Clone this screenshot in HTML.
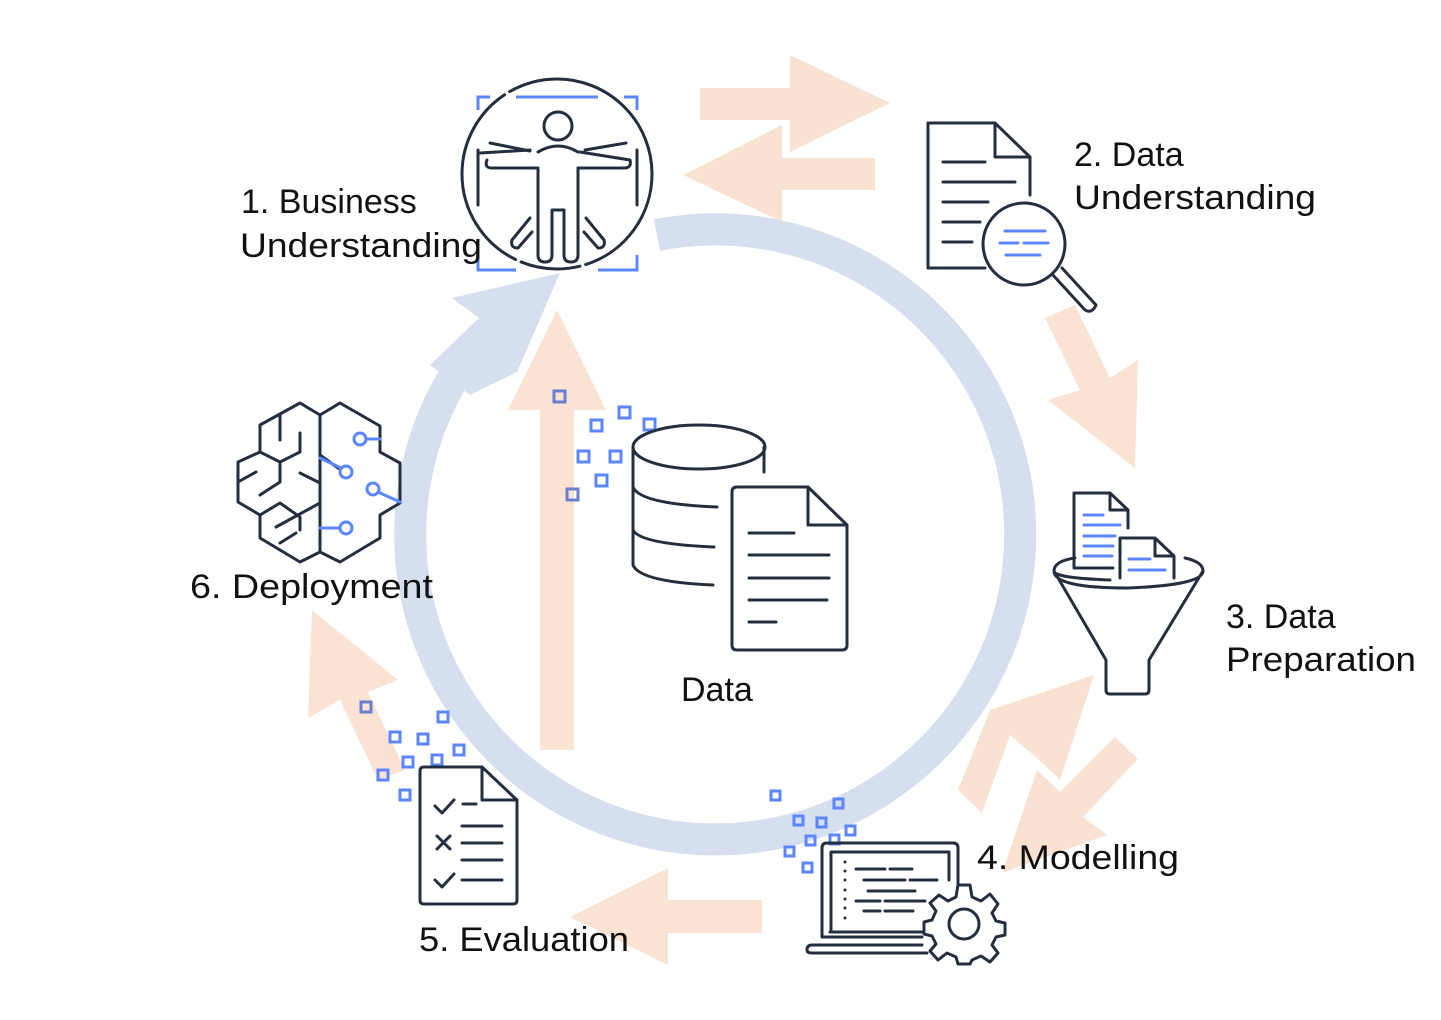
<!DOCTYPE html>
<html><head><meta charset="utf-8"><style>
html,body{margin:0;padding:0;background:#fff;}
svg{display:block;}
text{font-family:"Liberation Sans",sans-serif;font-size:34px;fill:#111;}
</style></head><body>
<svg width="1441" height="1020" viewBox="0 0 1441 1020" xmlns="http://www.w3.org/2000/svg">
<!-- ring -->
<path d="M657 235 A305 305 0 1 1 481 339" fill="none" stroke="#d5dff0" stroke-width="32"/>
<polygon points="560,273 452,298 479,318 430,365 470,395 517,372" fill="#d5dff0"/>
<!-- peach arrows -->
<g fill="#f9dcc8" opacity="0.8">
<polygon points="700,88 790,88 790,55 890,103 790,152 790,120 700,120"/>
<polygon points="875,158 782,158 782,125 683,175 782,222 782,190 875,190"/>
<polygon points="1045,318 1075,305 1110,378 1138,360 1135,468 1048,400 1080,390"/>
<polygon points="1010,735 1037,758 1060,780 1094,675 990,710 958,790 982,813"/>
<polygon points="1115,737 1138,759 1083,817 1107,835 1002,873 1037,770 1060,792"/>
<polygon points="762,900 668,900 668,868 570,917 668,965 668,933 762,933"/>
<polygon points="312,610 398,680 368,692 405,770 378,780 340,700 308,718"/>
<polygon points="557,310 606,410 574,410 574,750 540,750 540,410 508,410"/>
</g>
<!-- blue squares -->
<g fill="none" stroke="#5b86ff" stroke-width="3">
<rect x="554" y="391" width="11" height="11" stroke="#6a7fd0"/><rect x="619" y="407" width="11" height="11"/><rect x="591" y="420" width="11" height="11"/><rect x="644" y="419" width="11" height="11"/><rect x="578" y="451" width="11" height="11"/><rect x="610" y="451" width="11" height="11"/><rect x="596" y="475" width="11" height="11"/><rect x="567" y="489" width="11" height="11" stroke="#6a7fd0"/>
<rect x="361" y="702" width="10" height="10" stroke="#6a7fd0"/><rect x="438" y="712" width="10" height="10"/><rect x="390" y="732" width="10" height="10"/><rect x="418" y="734" width="10" height="10"/><rect x="454" y="745" width="10" height="10"/><rect x="403" y="757" width="10" height="10"/><rect x="432" y="755" width="10" height="10"/><rect x="378" y="770" width="10" height="10"/><rect x="400" y="790" width="10" height="10"/>
<rect x="771" y="791" width="9" height="9"/><rect x="834" y="799" width="9" height="9"/><rect x="794" y="816" width="9" height="9"/><rect x="817" y="818" width="9" height="9"/><rect x="846" y="826" width="9" height="9"/><rect x="806" y="836" width="9" height="9"/><rect x="830" y="835" width="9" height="9"/><rect x="785" y="847" width="9" height="9"/><rect x="803" y="863" width="9" height="9"/>
</g>
<g fill="none" stroke="#232f3e" stroke-width="3" stroke-linecap="round" stroke-linejoin="round">
<!-- business icon -->
<circle cx="557" cy="174" r="95" stroke-dasharray="120 6 60 6 200 6 200 6"/>
<circle cx="558" cy="126" r="14"/>
<path d="M538 152 Q558 140 578 152 M480 153 L530 150 M487 160 Q484 168 492 168 L538 168 L538 215 M578 168 L624 168 Q632 168 630 160 L580 152 M490 143 L530 151 M626 143 L585 150"/>
<path d="M538 190 L538 255 Q538 262 545 262 Q552 262 552 255 L552 210 L564 210 L564 255 Q564 262 571 262 Q578 262 578 255 L578 168"/>
<path d="M530 218 L512 240 Q510 248 518 248 L532 232 M586 218 L604 240 Q606 248 598 248 L584 232 M478 150 L478 205 M637 150 L637 205"/>
</g>
<g fill="none" stroke="#5b86ff" stroke-width="3">
<path d="M478 110 L478 97 L490 97 M516 97 L598 97 M624 97 L637 97 L637 110 M478 255 L478 270 L516 270 M598 270 L637 270 L637 255"/>
</g>
<g fill="none" stroke="#232f3e" stroke-width="3" stroke-linecap="round" stroke-linejoin="round">
<!-- data understanding -->
<path d="M985 268 L928 268 L928 123 L995 123 L1030 157 L1030 195 M995 123 L995 157 L1030 157"/>
<path d="M943 162 L985 162 M943 182 L1015 182 M943 202 L988 202 M943 222 L980 222 M943 242 L972 242"/>
<circle cx="1024" cy="244" r="41"/>
<path d="M1052 274 L1085 310 Q1092 314 1096 305 L1062 268"/>
<!-- funnel -->
<path d="M1110 580 Q1054 578 1054 571 Q1054 561 1075 558 M1185 558 Q1203 562 1203 571 Q1203 585 1128 588 Q1054 588 1054 571 L1106 660 L1106 690 Q1106 694 1110 694 L1145 694 Q1149 694 1149 690 L1149 660 L1203 571"/>
<path d="M1113 568 L1074 568 L1074 493 L1110 493 L1128 510 L1128 528 M1110 493 L1110 510 L1128 510"/>
<path d="M1120 578 L1120 538 L1155 538 L1174 556 L1174 578 M1155 538 L1155 556 L1174 556"/>
<!-- data -->
<ellipse cx="699" cy="447" rx="66" ry="22"/>
<path d="M633 447 L633 565 Q640 582 713 585 M764 447 L764 472 M633 487 Q640 504 717 507 M633 530 Q640 544 714 547"/>
<path d="M808 487 L737 487 Q732 487 732 492 L732 645 Q732 650 737 650 L842 650 Q847 650 847 645 L847 525 Z M808 487 L808 525 L847 525"/>
<path d="M749 533 L794 533 M749 555 L829 555 M749 578 L829 578 M749 600 L827 600 M749 622 L776 622"/>
<!-- brain -->
<path d="M260 425 L280 414 L300 403 L320 415 L340 403 L380 426 L380 452 L400 463 L400 503 L380 515 L380 538 L340 562 L320 552 L300 562 L260 538 L260 515 L238 502 L238 462 L260 452 Z"/>
<path d="M320 415 L320 552 M260 425 L260 452 M280 414 L280 440 M300 433 L300 452 L280 462 L280 482 M260 452 L280 462 M238 482 L256 472 M260 515 L280 503 L300 517 L300 530 M280 482 L260 495 M300 473 L320 483 M320 503 L276 527 M280 543 L296 533 M320 455 L338 468 M340 470 L340 470"/>
<!-- eval doc -->
<path d="M482 767 L424 767 Q420 767 420 771 L420 900 Q420 904 424 904 L513 904 Q517 904 517 900 L517 800 Z M482 767 L482 800 L517 800"/>
<path d="M435 806 L442 813 L454 800 M463 804 L476 804 M437 836 L450 849 M450 836 L437 849 M462 826 L502 826 M462 843 L502 843 M435 880 L442 887 L454 874 M462 860 L502 860 M462 880 L502 880"/>
<!-- laptop -->
<path d="M922 937 L822 937 L822 848 Q822 843 827 843 L953 843 Q958 843 958 848 L958 885 M830 932 L922 932 M922 945 L812 945 Q807 945 807 950 Q807 953 812 953 L927 953"/>
<path d="M831 852 L949 852 L949 880 M831 852 L831 930"/>
<path d="M845 862 L845 862 M845 871 L845 871 M845 880 L845 880 M845 890 L845 890 M845 899 L845 899 M845 908 L845 908 M845 918 L845 918"/>
<path d="M856 869 L885 869 M890 869 L912 869 M864 880 L905 880 M910 880 L937 880 M868 891 L915 891 M856 901 L880 901 M885 901 L925 901 M864 911 L880 911 M885 911 L913 911"/>
<circle cx="964" cy="924" r="15"/>
<path d="M958 885 L970 885 L972 897 L981 901 L990 894 L998 904 L992 913 L996 921 L1005 923 L1005 935 L996 937 L992 945 L998 953 L990 962 L981 956 L972 960 L970 964 L958 964 L956 957 L947 953 L938 960 L930 951 L936 944 L932 936 L924 934 L924 922 L932 920 L936 911 L930 903 L939 895 L948 901 L956 897 Z"/>
</g>
<g fill="none" stroke="#5b86ff" stroke-width="3" stroke-linecap="round">
<path d="M1005 231 L1045 231 M1000 243 L1018 243 M1024 243 L1048 243 M1006 255 L1040 255"/>
<path d="M1084 515 L1103 515 M1084 525 L1120 525 M1084 536 L1115 536 M1084 546 L1113 546 M1084 556 L1112 556 M1129 559 L1150 559 M1129 570 L1165 570"/>
<circle cx="360" cy="439" r="6"/><path d="M366 439 L380 439"/>
<circle cx="346" cy="472" r="6"/><path d="M320 458 L341 468"/>
<circle cx="373" cy="489" r="6"/><path d="M378 492 L400 502"/>
<circle cx="346" cy="528" r="6"/><path d="M320 528 L340 528"/>
</g>
<!-- labels -->
<text x="241" y="213">1. Business</text>
<text x="240" y="257" textLength="242" lengthAdjust="spacingAndGlyphs">Understanding</text>
<text x="1074" y="166">2. Data</text>
<text x="1074" y="209" textLength="242" lengthAdjust="spacingAndGlyphs">Understanding</text>
<text x="1226" y="628">3. Data</text>
<text x="1226" y="671" textLength="190" lengthAdjust="spacingAndGlyphs">Preparation</text>
<text x="977" y="869" textLength="202" lengthAdjust="spacingAndGlyphs">4. Modelling</text>
<text x="419" y="951" textLength="210" lengthAdjust="spacingAndGlyphs">5. Evaluation</text>
<text x="190" y="598" textLength="243" lengthAdjust="spacingAndGlyphs">6. Deployment</text>
<text x="681" y="701">Data</text>
</svg>
</body></html>
